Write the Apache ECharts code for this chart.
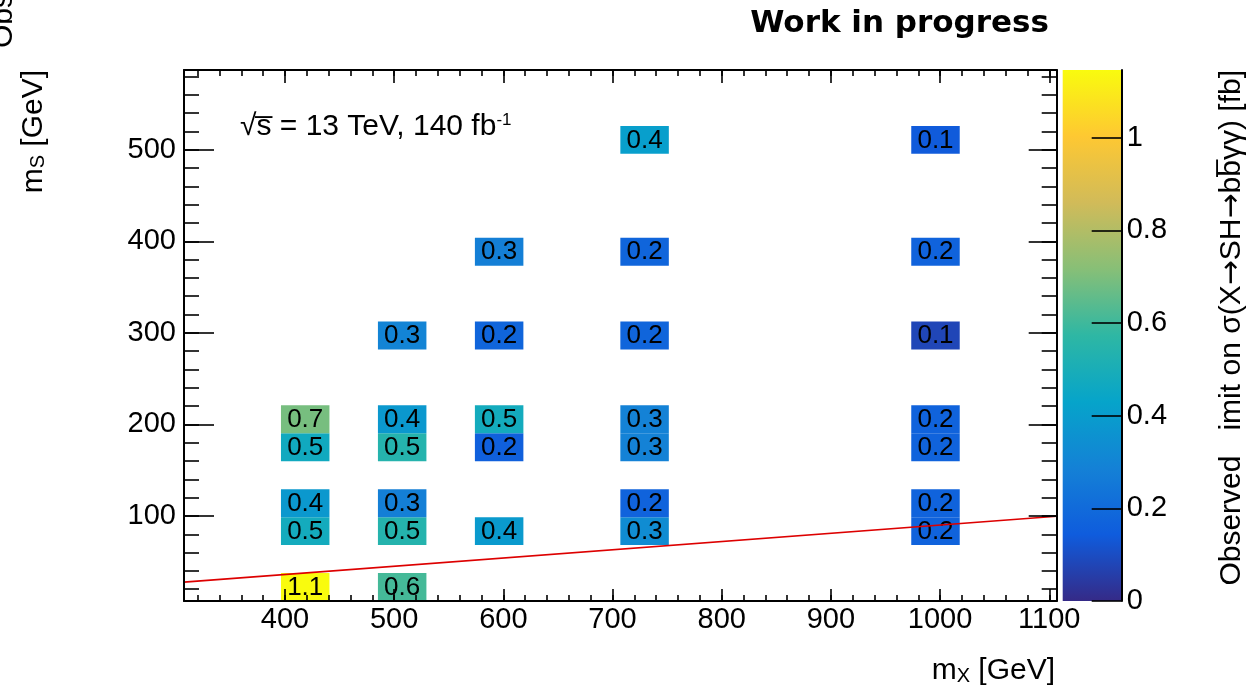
<!DOCTYPE html>
<html><head><meta charset="utf-8">
<script src="https://cdn.jsdelivr.net/npm/echarts@6/dist/echarts.min.js"></script>
<style>html,body{margin:0;padding:0;background:#fff}#c{width:1251px;height:691px}</style>
</head><body><div id="c"></div>
<script>
// ---- data ----
const cellMX = [400,400,400,400,400, 500,500,500,500,500,500, 600,600,600,600,600, 750,750,750,750,750,750,750, 1000,1000,1000,1000,1000,1000,1000];
const cellMS = [30,70,100,170,200, 30,70,100,170,200,300, 70,170,200,300,400, 70,100,170,200,300,400,500, 70,100,170,200,300,400,500];
const cellValue = [1.146,0.48,0.38,0.47,0.69, 0.61,0.54,0.28,0.54,0.38,0.30, 0.39,0.16,0.48,0.18,0.28, 0.33,0.17,0.29,0.29,0.18,0.18,0.41, 0.17,0.17,0.17,0.17,0.08,0.17,0.14];
const xTickValues = [400,500,600,700,800,900,1000,1100];
const yTickValues = [100,200,300,400,500];
const zTickValues = [0,0.2,0.4,0.6,0.8,1];
const zTickLabels = ['0','0.2','0.4','0.6','0.8','1'];
const lineMX = [307.5, 1106.8];
const lineMS = [27.7, 99.6];
// histogram binning (axis ranges in GeV)
const X_MIN = 307.5, X_MAX = 1106.8, X_BINS = 18;
const Y_MIN = 7.1, Y_MAX = 587.1, Y_BINS = 19;
const Z_MAX = 1.146;
const palette = ['#352a87','#0f5cdd','#1481d6','#06a4ca','#2eb7a4','#87bf77','#d1bb59','#fec832','#f9fb0e'];

const xMinor = []; for (let v = 320; v <= 1100; v += 20) xMinor.push(v);
const yMinor = []; for (let v = 20; v <= 580; v += 20) yMinor.push(v);

const bwX = (X_MAX - X_MIN) / X_BINS, bwY = (Y_MAX - Y_MIN) / Y_BINS;
const cells = cellMX.map((mx, i) => {
  const bx = Math.floor((mx - X_MIN) / bwX), by = Math.floor((cellMS[i] - Y_MIN) / bwY);
  const x0 = X_MIN + bx * bwX, y0 = Y_MIN + by * bwY;
  return [x0, x0 + bwX, y0, y0 + bwY, cellValue[i]];
});

const FONT = '"Liberation Sans", Arial, sans-serif';
const tickStyle = {color:'#000', width:1.6};
function xAx(pos, withLine, len, vals, labels) {
  return {type:'value', gridIndex:0, position:pos, min:X_MIN, max:X_MAX, z:10,
    axisLine:{show:withLine, onZero:false, lineStyle:{color:'#000', width:2}},
    axisTick:{show:true, inside:true, length:len, customValues:vals, lineStyle:tickStyle},
    axisLabel: labels ? {show:true, customValues:vals, margin:4, color:'#000', fontSize:29, fontFamily:FONT, formatter:(v)=>String(v)} : {show:false},
    splitLine:{show:false}};
}
function yAx(pos, withLine, len, vals, labels) {
  return {type:'value', gridIndex:0, position:pos, min:Y_MIN, max:Y_MAX, z:10,
    axisLine:{show:withLine, onZero:false, lineStyle:{color:'#000', width:2}},
    axisTick:{show:true, inside:true, length:len, customValues:vals, lineStyle:tickStyle},
    axisLabel: labels ? {show:true, customValues:vals, margin:8, color:'#000', fontSize:29, fontFamily:FONT, formatter:(v)=>String(v)} : {show:false},
    splitLine:{show:false}};
}

const sub = {fontSize:20, lineHeight:5, verticalAlign:'bottom', fontFamily:FONT, fill:'#000'};
const big = {fontSize:30, lineHeight:30, fontFamily:FONT, fill:'#000'};
const arrow = {fontSize:30, lineHeight:30, fontFamily:'"DejaVu Sans", sans-serif', fill:'#000'};

const chart = echarts.init(document.getElementById('c'), null, {renderer:'canvas'});
chart.setOption({
  animation:false,
  backgroundColor:'#fff',
  grid:[
    {left:184, top:70, width:872.7, height:531},
    {left:1062.7, top:70, width:59, height:531}
  ],
  xAxis:[
    xAx('bottom', true, 12, xTickValues, true),
    xAx('bottom', false, 6, xMinor, false),
    xAx('top', true, 13, xTickValues, false),
    xAx('top', false, 6, xMinor, false),
    {type:'value', gridIndex:1, min:0, max:1, show:false}
  ],
  yAxis:[
    yAx('left', true, 30, yTickValues, true),
    yAx('left', false, 15, yMinor, false),
    yAx('right', true, 28, yTickValues, false),
    yAx('right', false, 15, yMinor, false),
    {type:'value', gridIndex:1, position:'right', min:0, max:Z_MAX, z:10,
      axisLine:{show:true, onZero:false, lineStyle:{color:'#000', width:2}},
      axisTick:{show:true, inside:true, length:30, customValues:zTickValues, lineStyle:tickStyle},
      axisLabel:{show:true, customValues:zTickValues, margin:5, color:'#000', fontSize:29, fontFamily:FONT,
        formatter:(v)=>{const k = zTickValues.findIndex(t=>Math.abs(t-v)<1e-9); return k>=0 ? zTickLabels[k] : '';}},
      splitLine:{show:false}}
  ],
  visualMap:{type:'continuous', show:false, seriesIndex:0, dimension:4, min:0, max:Z_MAX, inRange:{color:palette}},
  series:[
    {type:'custom', xAxisIndex:0, yAxisIndex:0, data:cells, encode:{x:[0,1], y:[2,3]}, z:2, silent:true,
      renderItem:(params, api)=>{
        const p0 = api.coord([api.value(0), api.value(3)]);
        const p1 = api.coord([api.value(1), api.value(2)]);
        const v = api.value(4);
        return {type:'group', children:[
          {type:'rect', shape:{x:p0[0], y:p0[1], width:p1[0]-p0[0], height:p1[1]-p0[1]}, style:{fill:api.visual('color')}},
          {type:'text', x:(p0[0]+p1[0])/2, y:(p0[1]+p1[1])/2+0.5, style:{text:v.toFixed(1), fill:'#000', fontSize:26, fontFamily:FONT, align:'center', verticalAlign:'middle'}}
        ]};
      }},
    {type:'line', xAxisIndex:0, yAxisIndex:0, data:lineMX.map((x,i)=>[x, lineMS[i]]), symbol:'none', silent:true, z:5,
      lineStyle:{color:'#dd0000', width:1.6}},
    {type:'custom', xAxisIndex:4, yAxisIndex:4, data:[[0,1,0,Z_MAX]], silent:true, z:2,
      renderItem:(params, api)=>{
        const p0 = api.coord([api.value(0), api.value(3)]);
        const p1 = api.coord([api.value(1), api.value(2)]);
        return {type:'rect', shape:{x:p0[0], y:p0[1], width:p1[0]-p0[0], height:p1[1]-p0[1]},
          style:{fill:new echarts.graphic.LinearGradient(0,1,0,0, palette.map((c,i)=>({offset:i/(palette.length-1), color:c})))}};
      }}
  ],
  graphic:[
    {type:'text', x:1049, y:24, style:{text:'Work in progress', fontSize:31, fontWeight:'bold', fontFamily:'"DejaVu Sans", sans-serif', fill:'#000', align:'right', verticalAlign:'middle'}},
    {type:'text', x:240, y:127, style:{text:'{n|\u221As\u0305 = 13 TeV, 140 fb}{sup|-1}', rich:{n:{fontSize:30, lineHeight:30, fontFamily:FONT, fill:'#000'}, sup:{fontSize:17, lineHeight:10, verticalAlign:'top', fontFamily:FONT, fill:'#000'}}, align:'left', verticalAlign:'middle'}},
    {type:'text', x:33.5, y:70, rotation:Math.PI/2, style:{text:'{b|m}{s|S}{b| [GeV]}', rich:{b:big, s:sub}, align:'right', verticalAlign:'middle'}},
    {type:'text', x:1055, y:671, style:{text:'{b|m}{s|X}{b| [GeV]}', rich:{b:big, s:sub}, align:'right', verticalAlign:'middle'}},
    {type:'text', x:1232, y:70, rotation:Math.PI/2, style:{text:'{b|Observed   imit on \u03C3(X}{a|\u2192}{b|SH}{a|\u2192}{b|bb\u0305\u03B3\u03B3) [fb]}', rich:{b:big, a:arrow}, align:'right', verticalAlign:'middle'}},
    {type:'text', x:3.6, y:48, rotation:Math.PI/2, style:{text:'Observed limit', fontSize:30, fontFamily:FONT, fill:'#000', align:'left', verticalAlign:'middle'}}
  ]
});
</script>
</body></html>
